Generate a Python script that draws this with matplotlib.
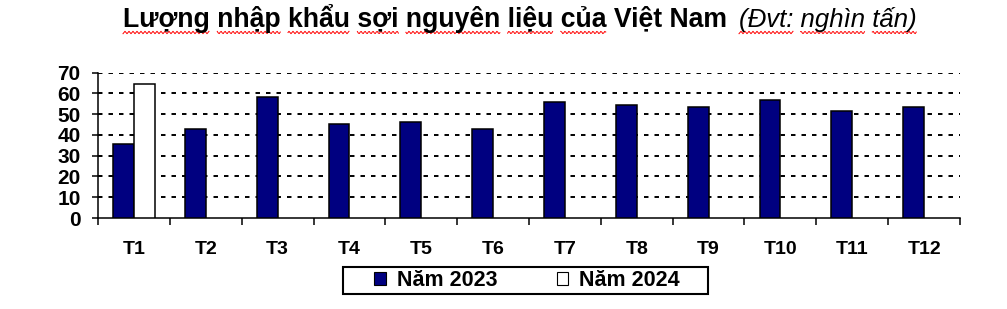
import numpy as np
import matplotlib
matplotlib.use('Agg')
import matplotlib.pyplot as plt
from matplotlib.patches import Patch, Rectangle
from matplotlib.lines import Line2D
from matplotlib.transforms import IdentityTransform

months = ['T1', 'T2', 'T3', 'T4', 'T5', 'T6', 'T7', 'T8', 'T9', 'T10', 'T11', 'T12']
nam_2023 = [35.7, 43.0, 58.3, 45.5, 46.2, 43.0, 55.7, 54.2, 53.3, 56.7, 51.7, 53.3]
nam_2024 = [64.6]
yticks = [0, 10, 20, 30, 40, 50, 60, 70]
title_main = 'Lượng nhập khẩu sợi nguyên liệu của Việt Nam'
title_unit = '(Đvt: nghìn tấn)'

plt.rcParams['font.family'] = ['Liberation Sans', 'DejaVu Sans']

W, H = 1007, 309
fig = plt.figure(figsize=(W / 100, H / 100), dpi=100)
ax = fig.add_axes([98 / W, 1 - 218 / H, (960 - 98) / W, (218 - 72.7) / H])

x = np.arange(len(months))
bw = 0.29
ax.bar(x - bw / 2, nam_2023, bw, color='#000080', edgecolor='black', linewidth=1.1, zorder=3)
ax.bar(x[:len(nam_2024)] + bw / 2, nam_2024, bw, color='white', edgecolor='black', linewidth=1.1, zorder=3)

ax.set_xlim(-0.5, len(months) - 0.5)
ax.set_ylim(0, 70)
ax.set_yticks(yticks)
ax.set_yticklabels([str(v) for v in yticks], fontsize=15, fontweight='bold')
ax.tick_params(axis='y', direction='out', length=4.5, width=1.1, pad=8)

# category boundaries carry the tick marks, labels sit in the middle
ax.set_xticks(np.arange(-0.5, len(months), 1.0))
ax.set_xticklabels([])
ax.set_xticks(x, minor=True)
ax.set_xticklabels(months, minor=True, fontsize=14, fontweight='bold')
ax.tick_params(axis='x', which='major', direction='out', length=5, width=1.1)
ax.tick_params(axis='x', which='minor', length=0, pad=16.5)

for y in yticks[1:]:
    ax.axhline(y, color='black', linewidth=1.4, linestyle=(0, (2.3, 3.1)), zorder=1)

for s in ['top', 'right']:
    ax.spines[s].set_visible(False)
for s in ['left', 'bottom']:
    ax.spines[s].set_linewidth(1.1)

# legend box drawn separately so the side padding can be wider than the top/bottom
fig.add_artist(Rectangle((343 / W, 1 - 294 / H), (708 - 343) / W, (294 - 267) / H,
                         transform=fig.transFigure, facecolor='white', edgecolor='black',
                         linewidth=1.5, zorder=1))
handles = [Patch(facecolor='#000080', edgecolor='black', linewidth=0.8, label='Năm 2023'),
           Patch(facecolor='white', edgecolor='black', linewidth=0.8, label='Năm 2024')]
leg = fig.legend(handles=handles, loc='center', bbox_to_anchor=(527 / W, 1 - 280.5 / H),
                 ncol=2, prop={'size': 15.5, 'weight': 'bold'}, frameon=False,
                 handlelength=0.55, handleheight=0.55, handletextpad=0.5, columnspacing=2.75,
                 borderpad=0.15, borderaxespad=0)
leg.set_zorder(2)

base_y = H - 27
t1 = fig.text(123 / W, base_y / H, title_main, fontsize=19.2, fontweight='bold', va='baseline', ha='left')
t2 = fig.text(739 / W, base_y / H, title_unit, fontsize=18.5, fontstyle='italic', va='baseline', ha='left')

# red spell-check squiggles under words
fig.canvas.draw()
renderer = fig.canvas.get_renderer()


def squiggle(t, words):
    s = t.get_text()
    fp = t.get_fontproperties()
    x0 = t.get_window_extent(renderer).x0
    pos = 0
    for w in s.split(' '):
        if w == '':
            pos += 1
            continue
        start = s.index(w, pos)
        end = start + len(w)
        pos = end
        if w not in words:
            continue
        full = renderer.get_text_width_height_descent(s[:end], fp, ismath=False)[0]
        ww = renderer.get_text_width_height_descent(w, fp, ismath=False)[0]
        xa, xb = x0 + full - ww, x0 + full
        xs = np.arange(xa, xb, 1.0)
        ys = (H - 32.5) + 1.2 * np.sin(xs * np.pi / 2)
        fig.add_artist(Line2D(xs, ys, color='#ff0000', linewidth=0.7, transform=IdentityTransform()))


squiggle(t1, ['Lượng', 'nhập', 'khẩu', 'sợi', 'nguyên', 'liệu', 'của'])
squiggle(t2, ['(Đvt:', 'nghìn', 'tấn)'])

fig.savefig('out.png', dpi=100)
